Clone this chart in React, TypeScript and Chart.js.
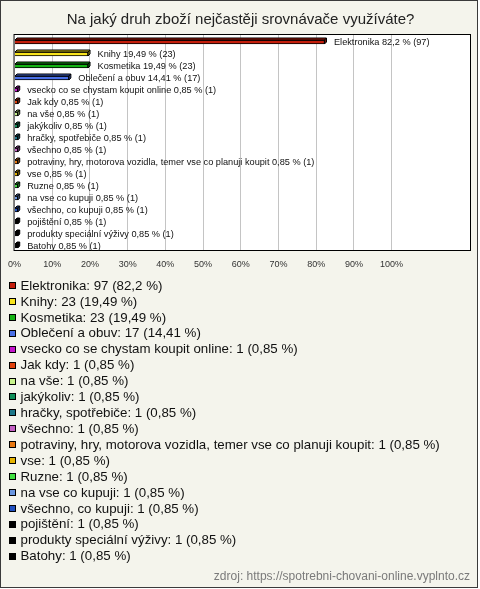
import React, { useEffect, useRef } from "react";
import { Chart, registerables } from "chart.js";

Chart.register(...registerables);

const FONT = "'Liberation Sans', Arial, Helvetica, sans-serif";

const titleText = "Na jaký druh zboží nejčastěji srovnávače využíváte?";
const sourceText = "zdroj: https://spotrebni-chovani-online.vyplnto.cz";

const categories = [
  "Elektronika",
  "Knihy",
  "Kosmetika",
  "Oblečení a obuv",
  "vsecko co se chystam koupit online",
  "Jak kdy",
  "na vše",
  "jakýkoliv",
  "hračky, spotřebiče",
  "všechno",
  "potraviny, hry, motorova vozidla, temer vse co planuji koupit",
  "vse",
  "Ruzne",
  "na vse co kupuji",
  "všechno, co kupuji",
  "pojištění",
  "produkty speciální výživy",
  "Batohy",
];

const counts = [97, 23, 23, 17, 1, 1, 1, 1, 1, 1, 1, 1, 1, 1, 1, 1, 1, 1];

const percents = [
  82.2, 19.49, 19.49, 14.41, 0.85, 0.85, 0.85, 0.85, 0.85, 0.85, 0.85, 0.85,
  0.85, 0.85, 0.85, 0.85, 0.85, 0.85,
];

const colors = [
  "#c41e0c",
  "#f8e41c",
  "#14b414",
  "#4a70e6",
  "#c414cc",
  "#e0400c",
  "#c8f48c",
  "#10905a",
  "#1e788a",
  "#c460c4",
  "#e87812",
  "#e6b400",
  "#40e040",
  "#6a96e0",
  "#2050c0",
  "#000000",
  "#000000",
  "#000000",
];

const tickValues = [0, 10, 20, 30, 40, 50, 60, 70, 80, 90, 100];

function fmt(p: number): string {
  return String(p).replace(".", ",");
}

function shade(hex: string, f: number): string {
  const n = parseInt(hex.slice(1), 16);
  const r = Math.round(((n >> 16) & 255) * f);
  const g = Math.round(((n >> 8) & 255) * f);
  const b = Math.round((n & 255) * f);
  return `rgb(${r},${g},${b})`;
}

export default function App() {
  const ref = useRef<HTMLCanvasElement | null>(null);

  useEffect(() => {
    const canvas = ref.current;
    if (!canvas) return;
    const D = 2; // 3D depth

    const decor = {
      id: "decor",
      beforeDraw(chart: any) {
        const ctx = chart.ctx;
        const { width, height, chartArea: a } = chart;
        ctx.save();
        ctx.fillStyle = "#ffffff";
        ctx.fillRect(0, 0, width, height);
        ctx.fillStyle = "#f4f4ec";
        ctx.fillRect(0, 0, width - 2, height - 1);
        ctx.strokeStyle = "#3a3a3a";
        ctx.lineWidth = 1;
        ctx.strokeRect(0.5, 0.5, width - 3, height - 2);
        ctx.fillStyle = "#ffffff";
        ctx.fillRect(a.left, a.top, a.right - a.left, a.bottom - a.top);
        ctx.restore();
      },
      beforeDatasetsDraw(chart: any) {
        const ctx = chart.ctx;
        const a = chart.chartArea;
        ctx.save();
        ctx.strokeStyle = "#000000";
        ctx.lineWidth = 1;
        ctx.strokeRect(a.left + 0.5, a.top + 0.5, a.right - a.left - 1, a.bottom - a.top - 1);
        ctx.restore();
      },
      afterDatasetsDraw(chart: any) {
        const ctx = chart.ctx;
        const meta = chart.getDatasetMeta(0);
        ctx.save();
        ctx.lineWidth = 1;
        ctx.strokeStyle = "#000000";
        meta.data.forEach((el: any, i: number) => {
          const p = el.getProps(["x", "y", "base", "height"], true);
          const top = p.y - p.height / 2;
          const bottom = p.y + p.height / 2;
          const x0 = p.base;
          const x1 = p.x;
          // top face
          ctx.fillStyle = shade(colors[i], 0.8);
          ctx.beginPath();
          ctx.moveTo(x0, top);
          ctx.lineTo(x0 + D, top - D);
          ctx.lineTo(x1 + D, top - D);
          ctx.lineTo(x1, top);
          ctx.closePath();
          ctx.fill();
          ctx.stroke();
          // side face
          ctx.fillStyle = shade(colors[i], 0.6);
          ctx.beginPath();
          ctx.moveTo(x1, top);
          ctx.lineTo(x1 + D, top - D);
          ctx.lineTo(x1 + D, bottom - D);
          ctx.lineTo(x1, bottom);
          ctx.closePath();
          ctx.fill();
          ctx.stroke();
          // value label
          ctx.fillStyle = "#111111";
          ctx.font = `9.2px ${FONT}`;
          ctx.textAlign = "left";
          ctx.textBaseline = "middle";
          ctx.fillText(
            `${categories[i]} ${fmt(percents[i])} % (${counts[i]})`,
            x1 + 9.5,
            p.y
          );
        });
        ctx.restore();
      },
      afterDraw(chart: any) {
        const ctx = chart.ctx;
        const a = chart.chartArea;
        const y0 = a.bottom + 35;
        const step = 15.92;
        ctx.save();
        ctx.font = `13.3px ${FONT}`;
        ctx.textAlign = "left";
        ctx.textBaseline = "middle";
        categories.forEach((c, i) => {
          const y = y0 + i * step;
          ctx.fillStyle = colors[i];
          ctx.fillRect(9, Math.round(y) - 4, 7, 7);
          ctx.strokeStyle = "#000000";
          ctx.lineWidth = 1;
          ctx.strokeRect(9.5, Math.round(y) - 3.5, 6, 6);
          ctx.fillStyle = "#111111";
          ctx.fillText(`${c}: ${counts[i]} (${fmt(percents[i])} %)`, 20.5, y);
        });
        ctx.font = `12px ${FONT}`;
        ctx.fillStyle = "#7a7a7a";
        ctx.textAlign = "right";
        ctx.fillText(sourceText, 470, 577);
        ctx.restore();
      },
    };

    const chart = new Chart(canvas, {
      type: "bar",
      data: {
        datasets: [
          {
            data: percents.map((p, i) => ({ x: p, y: i })),
            backgroundColor: colors,
            borderColor: "#000000",
            borderWidth: 1,
            barThickness: 4,
          } as any,
        ],
      },
      options: {
        indexAxis: "y",
        responsive: false,
        devicePixelRatio: 1,
        animation: false,
        layout: { padding: { left: 10, right: 9, top: 0, bottom: 311.2 } },
        plugins: {
          legend: { display: false },
          tooltip: { enabled: false },
          title: {
            display: true,
            text: titleText,
            color: "#222222",
            font: { family: FONT, size: 15, weight: "normal" },
            padding: { top: 11, bottom: 5 },
          },
        },
        scales: {
          x: {
            type: "linear",
            min: -1 / 3.8,
            max: -1 / 3.8 + 461 / 3.8,
            afterBuildTicks: (scale: any) => {
              scale.ticks = tickValues.map((v) => ({ value: v }));
            },
            grid: {
              drawTicks: false,
              color: (ctx: any) =>
                ctx.tick && ctx.tick.value === 0 ? "rgba(0,0,0,0)" : "#c4c4c4",
              lineWidth: 1,
            },
            border: { display: false },
            ticks: {
              padding: 8,
              color: "#333333",
              font: { family: FONT, size: 9 },
              maxRotation: 0,
              autoSkip: false,
              callback: (v: any) => `${v}%`,
            },
          },
          y: {
            type: "linear",
            display: false,
            reverse: true,
            offset: false,
            grid: { offset: false },
            min: -8 / 12,
            max: -8 / 12 + 217 / 12,
          },
        },
      } as any,
      plugins: [decor],
    });

    return () => chart.destroy();
  }, []);

  return (
    <div style={{ position: "fixed", left: 0, top: 0, width: 480, height: 589 }}>
      <canvas ref={ref} width={480} height={589} style={{ display: "block" }} />
    </div>
  );
}
